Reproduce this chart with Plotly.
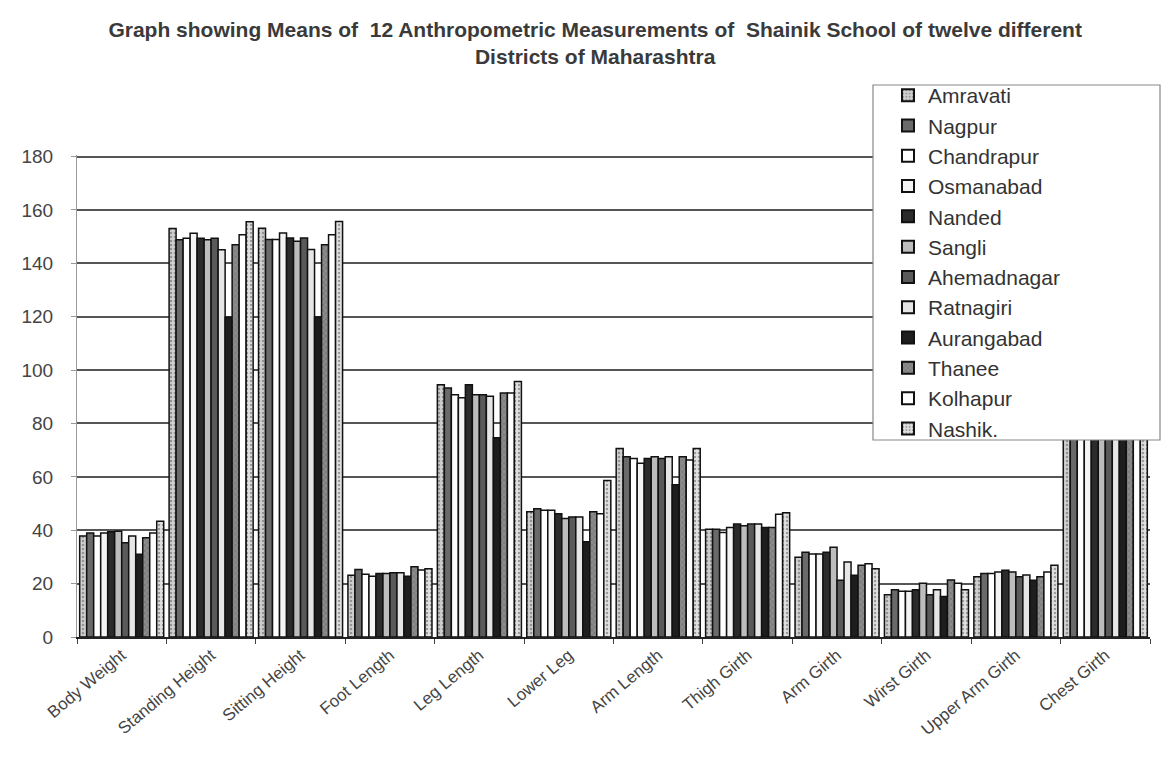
import plotly.graph_objects as go

# Measurement categories on the x axis
measurements = [
    "Body Weight", "Standing Height", "Sitting Height", "Foot Length",
    "Leg Length", "Lower Leg", "Arm Length", "Thigh Girth", "Arm Girth",
    "Wirst Girth", "Upper Arm Girth", "Chest Girth",
]

districts = [
    "Amravati", "Nagpur", "Chandrapur", "Osmanabad", "Nanded", "Sangli",
    "Ahemadnagar", "Ratnagiri", "Aurangabad", "Thanee", "Kolhapur", "Nashik.",
]

# Mean values per district, in the order of `measurements`
amravati    = [37.8, 153.1, 153.2, 23.1, 94.5, 46.9, 70.6, 40.4, 29.9, 15.8, 22.6, 78]
nagpur      = [39.0, 148.8, 148.9, 25.3, 93.3, 48.1, 67.5, 40.4, 31.8, 17.7, 23.8, 79]
chandrapur  = [37.8, 149.4, 148.9, 23.5, 90.8, 47.5, 66.9, 39.2, 31.1, 17.1, 23.8, 78]
osmanabad   = [39.0, 151.3, 151.4, 22.8, 89.6, 47.5, 65.1, 41.0, 31.1, 17.1, 24.4, 79]
nanded      = [39.4, 149.4, 149.5, 23.8, 94.5, 46.2, 66.9, 42.3, 31.8, 17.7, 25.0, 80]
sangli      = [39.6, 148.8, 148.3, 23.8, 90.8, 44.4, 67.5, 41.7, 33.6, 20.1, 24.4, 79]
ahemadnagar = [35.3, 149.4, 149.5, 24.1, 90.8, 45.0, 66.9, 42.3, 21.3, 15.8, 22.6, 78]
ratnagiri   = [37.8, 145.1, 145.2, 24.1, 90.2, 45.0, 67.5, 42.3, 28.1, 17.7, 23.2, 79]
aurangabad  = [31.0, 119.8, 119.9, 22.8, 74.7, 35.7, 57.0, 41.0, 23.1, 15.2, 21.3, 77]
thanee      = [37.2, 147.0, 147.0, 26.3, 91.4, 46.9, 67.5, 41.0, 26.9, 21.4, 22.6, 78]
kolhapur    = [39.0, 150.7, 150.7, 25.1, 91.4, 46.2, 66.3, 46.0, 27.4, 20.1, 24.4, 79]
nashik      = [43.4, 155.6, 155.7, 25.6, 95.7, 58.6, 70.6, 46.6, 25.6, 17.7, 26.9, 81]

series = [amravati, nagpur, chandrapur, osmanabad, nanded, sangli,
          ahemadnagar, ratnagiri, aurangabad, thanee, kolhapur, nashik]

fills = ["#cfcfcf", "#6a6a6a", "#ffffff", "#f4f4f4", "#2b2b2b", "#bdbdbd",
         "#5a5a5a", "#e6e6e6", "#1e1e1e", "#8c8c8c", "#ffffff", "#e0e0e0"]
patterns = [".", "", "", "", "", "", "", "", "", "x", "", "."]

y_ticks = [0, 20, 40, 60, 80, 100, 120, 140, 160, 180]

fig = go.Figure()
for i, (name, vals) in enumerate(zip(districts, series)):
    fig.add_trace(go.Bar(
        x=measurements, y=vals, name=name, legendgroup=name,
        marker=dict(
            color=fills[i],
            line=dict(color="#111111", width=1.5),
            pattern=dict(shape=patterns[i], fgcolor="#555555", size=4, solidity=0.3),
        ),
    ))

L, R, T, B = 77, 17, 155, 142
W, H = 1167, 779
pw, ph = W - L - R, H - T - B

def px_x(x):
    return (x - L) / pw

def px_y(y):
    return (H - B - y) / ph

# Legend panel drawn over the plot area
fig.add_shape(type="rect", xref="paper", yref="paper",
              x0=px_x(873), x1=px_x(1160), y0=px_y(440), y1=px_y(85),
              fillcolor="white", line=dict(color="#888888", width=1.2), layer="above")

fig.update_layout(
    width=W, height=H,
    margin=dict(l=L, r=R, t=T, b=B, autoexpand=False),
    paper_bgcolor="white", plot_bgcolor="white",
    barmode="group", bargap=0.06, bargroupgap=0,
    font=dict(family="Liberation Sans, Arial", color="#333333"),
    title=dict(
        text="<b>Graph showing Means of  12 Anthropometric Measurements of  Shainik School of twelve different</b><br><b>Districts of Maharashtra</b>",
        x=0.51, xanchor="center", xref="container", y=1 - 37 / H, yanchor="top",
        font=dict(size=21, color="#3a3a3a", family="Liberation Sans, Arial"),
    ),
    legend=dict(
        xref="paper", yref="paper",
        x=px_x(888), y=px_y(75), xanchor="left", yanchor="top",
        bgcolor="rgba(0,0,0,0)", borderwidth=0,
        font=dict(size=21, color="#333333"),
        tracegroupgap=0, itemsizing="constant", maxheight=700,
    ),
    showlegend=True,
)

fig.update_xaxes(
    type="category", tickangle=-40, tickfont=dict(size=17, color="#444444"),
    showline=True, linecolor="#222222", linewidth=1.5,
    ticks="outside", tickson="boundaries", ticklen=5, tickcolor="#444444",
    showgrid=False,
)
fig.update_yaxes(
    range=[0, 180.6], tickvals=y_ticks, tickfont=dict(size=19, color="#444444"),
    showgrid=True, gridcolor="#555555", gridwidth=1.5,
    showline=True, linecolor="#999999", linewidth=1,
    ticks="outside", ticklen=5, tickcolor="#999999", ticklabelstandoff=14,
    zeroline=False,
)

fig.write_html("out.html")
